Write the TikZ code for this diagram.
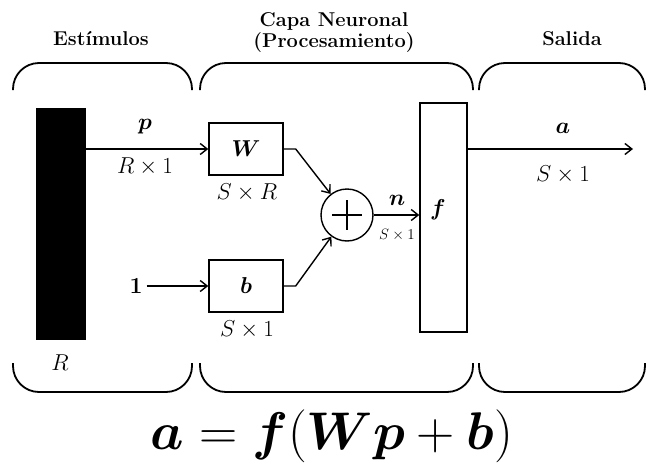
\documentclass[tikz,border=0pt]{standalone}
\usepackage{fix-cm}
\usetikzlibrary{arrows.meta}
\usepackage{amsmath}
\usepackage{bm}

\begin{document}
\begin{tikzpicture}[x=1pt,y=-1pt,line width=1.4pt,>={Straight Barb[length=7pt,width=11pt]},
  caja/.style={draw,rectangle,inner sep=0pt},
  etiq/.style={font=\fontsize{23}{26}\selectfont},
  chica/.style={font=\fontsize{15}{17}\selectfont},
  titulo/.style={font=\fontsize{20}{21}\selectfont\bfseries,align=center}]
\useasboundingbox (0,0) rectangle (646,466);
% llave de grupo, #1 = x izq, #2 = x der, #3 = y extremos, #4 = y del tramo recto
\newcommand{\llave}[4]{
  \draw[line width=1.8pt,rounded corners=26pt] (#1,#3) -- (#1,#4) -- (#2,#4) -- (#2,#3);
}
% ---------- titulos y llaves ----------
\node[titulo] (estimulos) at (101,39) {Estímulos};
\node[titulo] (capa) at (334,33) {Capa Neuronal\\(Procesamiento)};
\node[titulo] (salida) at (572,39) {Salida};
\foreach \xa/\xb in {13/192,200/473,479/645}{
  \llave{\xa}{\xb}{90}{63}
  \llave{\xa}{\xb}{363}{392}
}
% ---------- entrada p ----------
\node[caja,fill=black,minimum width=48pt,minimum height=230pt] (entrada) at (61,224) {};
\node[etiq] (R) at (60,363) {$R$};
% ---------- pesos y sesgo ----------
\node[caja,etiq,minimum width=74pt,minimum height=52pt] (W) at (246,149) {$\bm{W}$};
\node[caja,etiq,minimum width=74pt,minimum height=52pt] (b) at (246,286) {$\bm{b}$};
\node[etiq] (uno) at (136,286) {$\bm{1}$};
\node[etiq] (p) at (145,127) {$\bm{p}$};
\node[etiq] (Rx1) at (145,167) {$R\times 1$};
\node[etiq] (SxR) at (247,193) {$S\times R$};
\node[etiq] (Sx1b) at (247,330) {$S\times 1$};
\draw[->] (W.west -| entrada.east) -- (W.west);
\draw[->] (uno.east) -- (b.west);
% ---------- sumador y funcion ----------
\node[draw,circle,minimum size=52pt,inner sep=0pt] (suma) at (347,215) {};
\draw[line width=1.4pt] (suma.center) ++(-15,0) -- ++(30,0) (suma.center) ++(0,-15) -- ++(0,30);
\node[caja,minimum width=47pt,minimum height=229pt] (f) at (443.5,217.5) {};
\node[etiq] (fl) at (438,210) {$\bm{f}$};
\node[etiq] (n) at (397,200) {$\bm{n}$};
\node[chica] (Sx1n) at (397,235) {$S\times 1$};
\draw[->] (W.east) -- ++(12,0) -- (suma);
\draw[->] (b.east) -- ++(12,0) -- (suma);
\draw[->] (suma.east) -- (f.west |- suma.east);
% ---------- salida a ----------
\coordinate (fin) at (633,149);
\node[etiq] (a) at (563,128) {$\bm{a}$};
\node[etiq] (Sx1a) at (563,175) {$S\times 1$};
\draw[->] (f.east |- fin) -- (fin);
% ---------- ecuacion ----------
\node[font=\fontsize{53}{58}\selectfont] (ecuacion) at (332,436) {$\bm{a}=\bm{f}(\bm{W}\bm{p}+\bm{b})$};
\end{tikzpicture}
\end{document}
